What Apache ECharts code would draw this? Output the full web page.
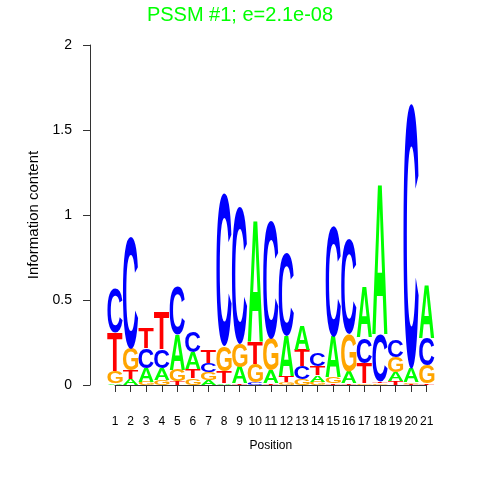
<!DOCTYPE html>
<html>
<head>
<meta charset="utf-8">
<script src="https://cdn.jsdelivr.net/npm/echarts@6/dist/echarts.min.js"></script>
<style>html,body{margin:0;padding:0;background:#fff}#chart{width:480px;height:480px}</style>
</head>
<body>
<div id="chart"></div>
<script>
// ---- data (information content, bits) ----
const positions = [1,2,3,4,5,6,7,8,9,10,11,12,13,14,15,16,17,18,19,20,21];
const letters = ['A','C','G','T'];
const heightA = [0.01,0.035,0.08,0.07,0.205,0.095,0.03,0.01,0.095,0.72,0.075,0.235,0.145,0.04,0.24,0.07,0.30,0.89,0.05,0.08,0.31];
const heightC = [0.265,0.66,0.115,0.11,0.29,0.12,0.055,0.90,0.805,0.015,0.70,0.49,0.075,0.08,0.65,0.56,0.15,0.28,0.10,1.56,0.16];
const heightG = [0.07,0.13,0.02,0.03,0.07,0.04,0.045,0.15,0.135,0.11,0.19,0.015,0.035,0.02,0.035,0.22,0.01,0.01,0.09,0.01,0.105];
const heightT = [0.23,0.05,0.12,0.22,0.02,0.055,0.075,0.07,0.01,0.13,0.01,0.04,0.095,0.05,0.01,0.01,0.12,0.01,0.025,0.005,0.01];
const yTicks = [0, 0.5, 1, 1.5, 2];
const titleText = 'PSSM #1; e=2.1e-08';

const letterColors = {A:'#00FF00', C:'#0000FF', G:'#FFA500', T:'#FF0000'};
const LETTER_FONT = 'bold 100px "Liberation Sans", Arial, sans-serif';

// measure glyph ink boxes (canvas 'middle' baseline as used by zrender)
const mctx = document.createElement('canvas').getContext('2d');
mctx.font = LETTER_FONT; mctx.textBaseline = 'middle'; mctx.textAlign = 'left';
const metrics = {};
letters.forEach(ch => {
  const m = mctx.measureText(ch);
  metrics[ch] = {l:m.actualBoundingBoxLeft, r:m.actualBoundingBoxRight, a:m.actualBoundingBoxAscent, d:m.actualBoundingBoxDescent};
});

// stacked letter data: [position, bottom, top, letterIndex]
const heights = {A:heightA, C:heightC, G:heightG, T:heightT};
const stackData = [];
positions.forEach((p, i) => {
  const items = letters.map((ch, k) => ({k, h: heights[ch][i]})).sort((a,b) => a.h - b.h);
  let base = 0;
  items.forEach(it => {
    stackData.push([p, base, base + it.h, it.k]);
    base += it.h;
  });
});

const LETTER_W = 0.98;
const chart = echarts.init(document.getElementById('chart'), null, {renderer:'canvas'});
chart.setOption({
  animation: false,
  backgroundColor: '#ffffff',
  title: {
    text: titleText, left: 'center', top: 0,
    textStyle: {color:'#00FF00', fontSize: 20, fontWeight: 'normal', fontFamily: 'Liberation Sans'}
  },
  grid: {left: 115, right: 53.3, top: 45, bottom: 95, containLabel: false},
  xAxis: {
    type: 'value', min: 1, max: 21, interval: 1, offset: 17,
    name: 'Position', nameLocation: 'middle', nameGap: 38,
    nameTextStyle: {color:'#000', fontSize: 12, fontFamily: 'Liberation Sans'},
    axisLine: {show: true, lineStyle: {color:'#333', width: 1}},
    axisTick: {show: true, length: 7, lineStyle: {color:'#333'}},
    axisLabel: {color:'#000', fontSize: 12, margin: 14, fontFamily: 'Liberation Sans', showMinLabel: true, showMaxLabel: true, hideOverlap: false},
    splitLine: {show: false}
  },
  yAxis: {
    type: 'value', min: 0, max: 2, interval: 0.5, offset: 25,
    name: 'Information content', nameLocation: 'middle', nameGap: 42, nameRotate: 90,
    nameTextStyle: {color:'#000', fontSize: 15, fontFamily: 'Liberation Sans'},
    axisLine: {show: true, lineStyle: {color:'#333', width: 1}},
    axisTick: {show: true, length: 7, lineStyle: {color:'#333'}},
    axisLabel: {color:'#000', fontSize: 14, margin: 18, fontFamily: 'Liberation Sans',
      formatter: v => (yTicks.indexOf(v) >= 0 ? String(v) : '')},
    splitLine: {show: false}
  },
  series: [{
    type: 'custom',
    clip: false,
    silent: true,
    data: stackData,
    renderItem: function (params, api) {
      const pos = api.value(0), y0 = api.value(1), y1 = api.value(2), k = api.value(3);
      const ch = letters[k];
      const p0 = api.coord([pos - LETTER_W/2, y1]);
      const p1 = api.coord([pos + LETTER_W/2, y0]);
      const w = p1[0] - p0[0], h = p1[1] - p0[1];
      if (h <= 0.05) return null;
      const m = metrics[ch];
      const sx = w / (m.l + m.r), sy = h / (m.a + m.d);
      return {
        type: 'text',
        x: p0[0] + m.l * sx,
        y: p0[1] + m.a * sy,
        scaleX: sx, scaleY: sy,
        silent: true,
        style: {text: ch, font: LETTER_FONT, fill: letterColors[ch], align: 'left', verticalAlign: 'middle'}
      };
    }
  }]
});
</script>
</body>
</html>
